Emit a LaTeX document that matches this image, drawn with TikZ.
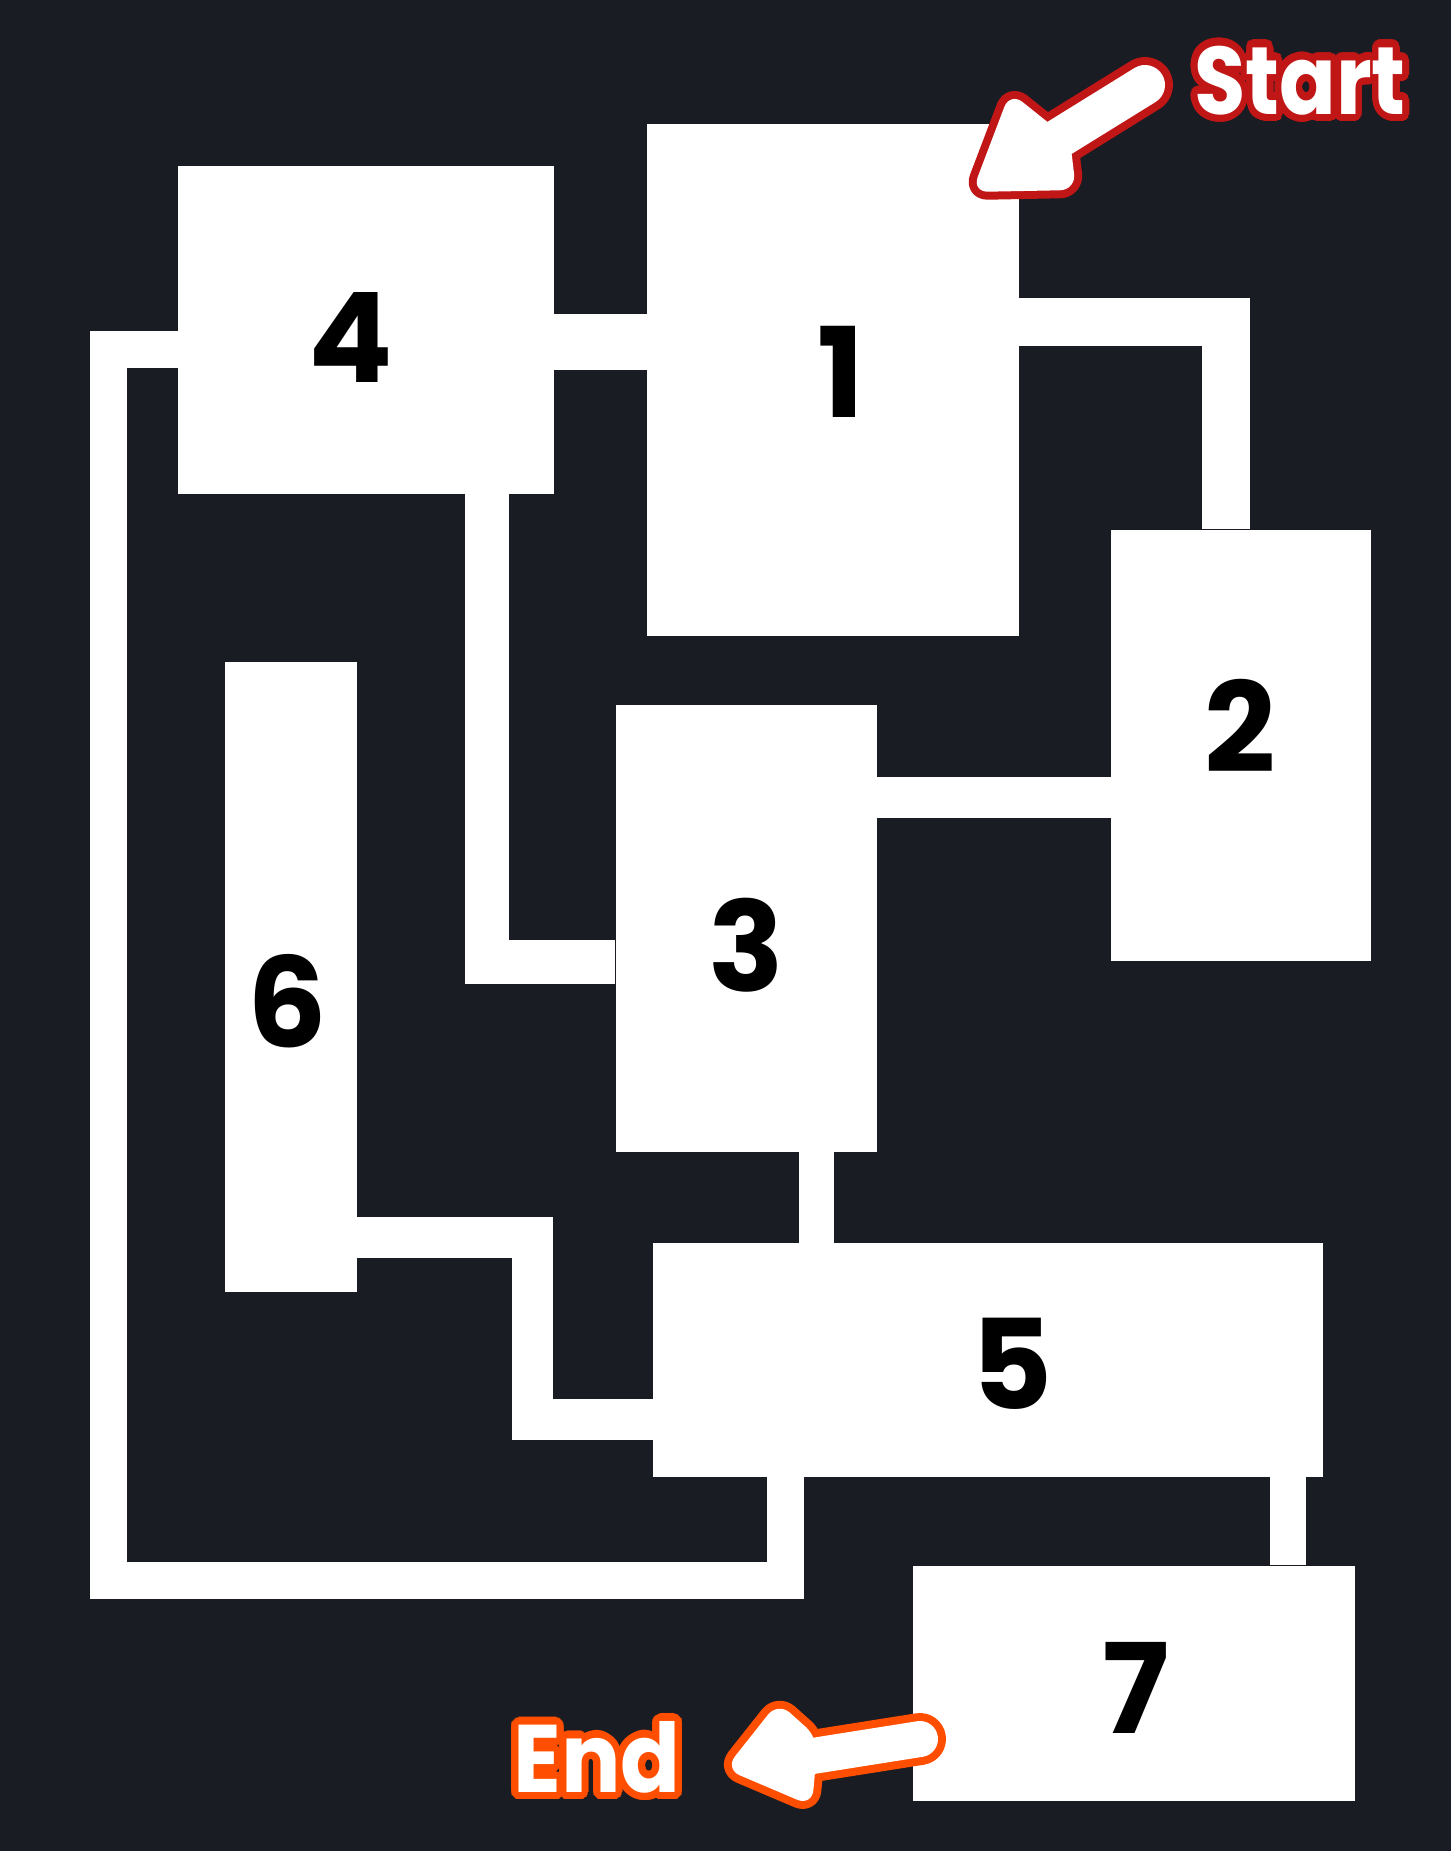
\documentclass[tikz,border=0pt]{standalone}
\usepackage{fontspec}
\setmainfont{Poppins}
\usepackage[copies]{contour}
\contourlength{7.5pt}
\contournumber{32}
\definecolor{bg}{RGB}{26,28,35}
\definecolor{startred}{RGB}{192,22,22}
\definecolor{endorange}{RGB}{255,78,0}
\begin{document}
\begin{tikzpicture}[x=1pt,y=-1pt,
  room/.style={fill=white,inner sep=0pt},
  num/.style={font=\fontsize{125}{125}\selectfont\bfseries,text=black,inner sep=0pt},
  corr/.style={draw=white,line width=#1},
  tag/.style={font=\fontsize{96}{96}\selectfont\bfseries,text=white,inner sep=0pt}]
  \fill[bg] (0,0) rectangle (1451,1851);

  % rooms
  \node[room,minimum width=376,minimum height=327] (r4) at (366,330) {};
  \node[room,minimum width=372,minimum height=511] (r1) at (833,380) {};
  \node[room,minimum width=260,minimum height=431] (r2) at (1241,745) {};
  \node[room,minimum width=261,minimum height=447] (r3) at (746,928) {};
  \node[room,minimum width=132,minimum height=630] (r6) at (291,977) {};
  \node[room,minimum width=670,minimum height=234] (r5) at (988,1360) {};
  \node[room,minimum width=442,minimum height=235] (r7) at (1134,1683) {};

  % corridors
  \draw[corr=55] (r4.east |- 0,342) -- (r1.west |- 0,342);
  \draw[corr=48] (r1.east |- 0,322) -| ([xshift=-15pt]r2.north);
  \draw[corr=44] ([xshift=121pt]r4.south) |- (r3.west |- 0,962);
  \draw[corr=41] (r3.east |- 0,797) -- (r2.west |- 0,797);
  \draw[corr=35] ([xshift=70pt]r3.south) -- ([xshift=70pt]r3.south |- r5.north);
  \draw[corr=41] (r6.east |- 0,1237) -| (532,1419) -- (r5.west |- 0,1419);
  \draw[corr=37] (r4.west |- 0,349) -| (108,1580) -| ([xshift=-203pt]r5.south);
  \draw[corr=36] ([xshift=300pt]r5.south) -- ([xshift=300pt]r5.south |- r7.north);

  % numbers
  \node[num] (n4) at (351,337) {4};
  \node[num] (n1) at (841,372) {1};
  \node[num] (n2) at (1240,726) {2};
  \node[num] (n3) at (746,945) {3};
  \node[num] (n6) at (287,1001) {6};
  \node[num] (n5) at (1012,1364) {5};
  \node[num] (n7) at (1136,1688) {7};

  % start pointer
  \draw[startred,line width=56,line cap=round] (1040,150) -- (1145,85);
  \filldraw[startred,line width=16,line join=round,rounded corners=16] (1010,92) -- (972,192) -- (1076,190) -- (1070,140) -- cycle;
  \draw[white,line width=40,line cap=round] (1040,150) -- (1145,85);
  \fill[white,rounded corners=16] (1010,92) -- (972,192) -- (1076,190) -- (1070,140) -- cycle;
  \node[tag] (start) at (1300,84) {\scalebox{0.87}[1]{\contour{startred}{Start}}};

  % end pointer
  \draw[endorange,line width=52,line cap=round] (800,1758) -- (920,1739);
  \filldraw[endorange,line width=16,line join=round,rounded corners=16] (778,1702) -- (725,1769) -- (812,1806) -- (818,1738) -- cycle;
  \draw[white,line width=36,line cap=round] (800,1758) -- (920,1739);
  \fill[white,rounded corners=16] (778,1702) -- (725,1769) -- (812,1806) -- (818,1738) -- cycle;
  \node[tag] (end) at (597,1761) {\scalebox{0.92}[1]{\contour{endorange}{End}}};
\end{tikzpicture}
\end{document}
